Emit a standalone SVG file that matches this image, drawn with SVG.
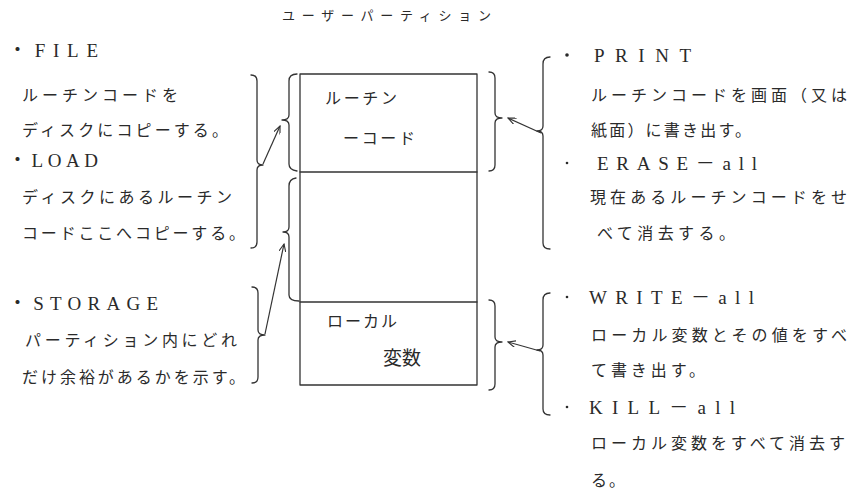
<svg xmlns="http://www.w3.org/2000/svg" width="848" height="495" viewBox="0 0 848 495">
<style>
.t{font-family:"Liberation Serif","Noto Sans CJK JP",serif;fill:#2a2a2a;}
.j{font-size:16px;}
.l{font-size:19px;}
.s{font-size:13px;}
.ln{fill:none;stroke:#333;stroke-width:1.3;stroke-linecap:round;stroke-linejoin:round;}
.ar{fill:none;stroke:#333;stroke-width:1.2;}
</style>
<defs>
<marker id="ah" viewBox="0 0 10 8" refX="9" refY="4" markerWidth="9" markerHeight="7" markerUnits="userSpaceOnUse" orient="auto">
<path d="M0,0 L9,4 L0,8" fill="none" stroke="#333" stroke-width="1.3"/>
</marker>
</defs>
<rect width="848" height="495" fill="#fff"/>

<g id="title">
<text class="t s" x="282" y="20" textLength="209" lengthAdjust="spacing">ユーザーパーティション</text>
</g>

<g id="partition">
<rect class="ln" x="300" y="74" width="177" height="311"/>
<line class="ln" x1="300" y1="172" x2="477" y2="172"/>
<line class="ln" x1="300" y1="302" x2="477" y2="302"/>
<g id="routine-code">
<text class="t j" x="325" y="104" textLength="72" lengthAdjust="spacing">ルーチン</text>
<text class="t j" x="343" y="144" textLength="72" lengthAdjust="spacing">ーコード</text>
</g>
<g id="free-area"></g>
<g id="local-vars">
<text class="t j" x="327" y="327" textLength="70" lengthAdjust="spacing">ローカル</text>
<text class="t" style="font-size:19px" x="383" y="365" textLength="38" lengthAdjust="spacing">変数</text>
</g>
</g>

<g id="file-load">
<text class="t l" x="8" y="57" textLength="90" lengthAdjust="spacing">・FILE</text>
<text class="t j" x="22" y="101" textLength="156" lengthAdjust="spacing">ルーチンコードを</text>
<text class="t j" x="22" y="136" textLength="206" lengthAdjust="spacing">ディスクにコピーする。</text>
<text class="t l" x="8" y="167" textLength="90" lengthAdjust="spacing">・LOAD</text>
<text class="t j" x="22" y="203" textLength="210" lengthAdjust="spacing">ディスクにあるルーチン</text>
<text class="t j" x="22" y="239" textLength="223" lengthAdjust="spacing">コードここへコピーする。</text>
</g>

<g id="storage">
<text class="t l" x="8" y="310" textLength="150" lengthAdjust="spacing">・STORAGE</text>
<text class="t j" x="25" y="346" textLength="212" lengthAdjust="spacing">パーティション内にどれ</text>
<text class="t j" x="22" y="383" textLength="223" lengthAdjust="spacing">だけ余裕があるかを示す。</text>
</g>

<g id="print-erase">
<circle cx="567" cy="55" r="1.8" fill="#2a2a2a"/>
<text class="t l" x="594" y="62" textLength="97" lengthAdjust="spacing">PRINT</text>
<text class="t j" x="591" y="101" textLength="256" lengthAdjust="spacing">ルーチンコードを画面（又は</text>
<text class="t j" x="591" y="136" textLength="160" lengthAdjust="spacing">紙面）に書き出す。</text>
<circle cx="567" cy="163" r="1.3" fill="#2a2a2a"/>
<text class="t l" x="597" y="170" textLength="160" lengthAdjust="spacing">ERASE－all</text>
<text class="t j" x="590" y="203" textLength="257" lengthAdjust="spacing">現在あるルーチンコードをせ</text>
<text class="t j" x="597" y="239" textLength="138" lengthAdjust="spacing">べて消去する。</text>
</g>

<g id="write-kill">
<circle cx="567" cy="297" r="1.3" fill="#2a2a2a"/>
<text class="t l" x="589" y="304" textLength="165" lengthAdjust="spacing">WRITE－all</text>
<text class="t j" x="591" y="341" textLength="256" lengthAdjust="spacing">ローカル変数とその値をすべ</text>
<text class="t j" x="591" y="376" textLength="114" lengthAdjust="spacing">て書き出す。</text>
<circle cx="567" cy="407" r="1.3" fill="#2a2a2a"/>
<text class="t l" x="589" y="414" textLength="146" lengthAdjust="spacing">KILL－all</text>
<text class="t j" x="591" y="449" textLength="254" lengthAdjust="spacing">ローカル変数をすべて消去す</text>
<text class="t j" x="591" y="486" textLength="34" lengthAdjust="spacing">る。</text>
</g>

<g id="connectors">
<path class="ln" d="M251,75 Q257,75 257,81 L257,160 Q257,165 263,165 Q257,165 257,170 L257,242 Q257,248 251,248"/>
<path class="ln" d="M297,74 Q289,74 289,81 L289,115 Q289,120 282,120 Q289,120 289,125 L289,164 Q289,170 297,171"/>
<path class="ln" d="M296,178 Q289,179 289,186 L289,227 Q289,232 283,232 Q289,232 289,237 L289,295 Q289,301 299,301"/>
<path class="ln" d="M252,287 Q258,287 258,293 L258,330 Q258,335 265,335 Q258,335 258,340 L258,377 Q258,383 252,383"/>
<path class="ln" d="M489,72 Q495,72 495,78 L495,113 Q495,118 502,118 Q495,118 495,123 L495,165 Q495,171 489,171"/>
<path class="ln" d="M550,57 Q543,57 543,64 L543,126 Q543,131 537,131 Q543,131 543,136 L543,243 Q543,249 550,249"/>
<path class="ln" d="M489,300 Q495,300 495,306 L495,337 Q495,342 502,342 Q495,342 495,347 L495,384 Q495,390 489,390"/>
<path class="ln" d="M550,293 Q543,293 543,300 L543,345 Q543,350 537,350 Q543,350 543,355 L543,409 Q543,415 550,415"/>
<line class="ar" x1="263" y1="164" x2="280" y2="126" marker-end="url(#ah)"/>
<line class="ar" x1="265" y1="334" x2="284" y2="244" marker-end="url(#ah)"/>
<line class="ar" x1="541" y1="133" x2="508" y2="118" marker-end="url(#ah)"/>
<line class="ar" x1="540" y1="351" x2="508" y2="342" marker-end="url(#ah)"/>
</g>
</svg>
